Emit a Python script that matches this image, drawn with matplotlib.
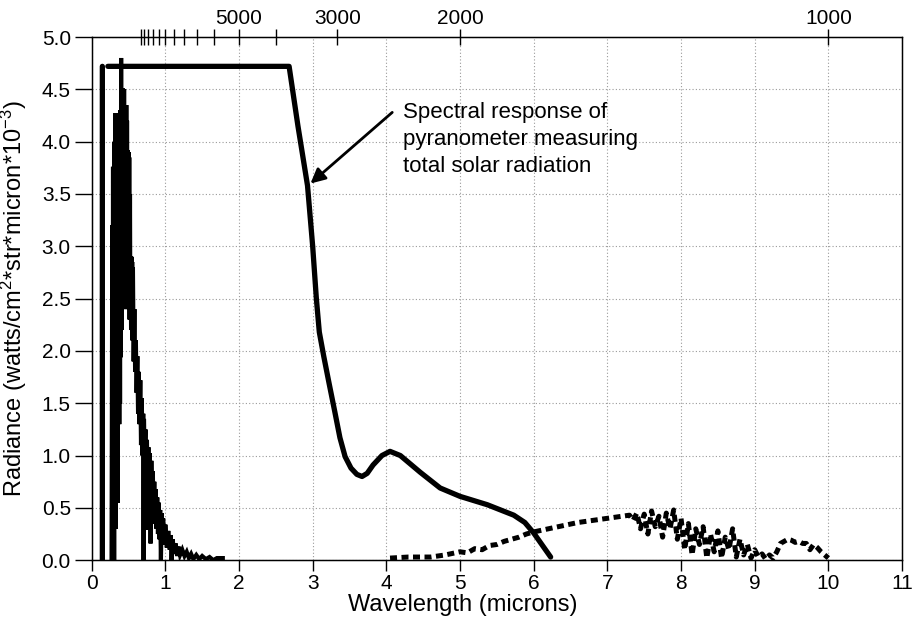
import numpy as np
import matplotlib
matplotlib.use("Agg")
import matplotlib.pyplot as plt

plt.rcParams['font.family'] = ['Liberation Sans', 'DejaVu Sans']
plt.rcParams['mathtext.fontset'] = 'custom'
plt.rcParams['mathtext.rm'] = 'Liberation Sans'
plt.rcParams['mathtext.it'] = 'Liberation Sans'

# pyranometer spectral response (nan = small gap at the top-left corner)
pyr_x = [0.145, 0.145, np.nan, 0.22, 1.0, 2.0, 2.68, 2.80, 2.93, 3.0, 3.05, 3.09,
         3.15, 3.22, 3.30, 3.37, 3.44, 3.52, 3.60, 3.67, 3.74, 3.82, 3.94, 4.05,
         4.19, 4.46, 4.73, 5.0, 5.37, 5.73, 5.88, 6.0, 6.23]
pyr_y = [0.0, 4.72, np.nan, 4.72, 4.72, 4.72, 4.72, 4.15, 3.58, 3.0, 2.50, 2.18,
         1.95, 1.70, 1.42, 1.17, 0.99, 0.88, 0.82, 0.80, 0.83, 0.91, 1.00, 1.04,
         1.00, 0.84, 0.69, 0.61, 0.53, 0.43, 0.36, 0.26, 0.03]

# solar radiation spectrum
sun_x = [0.270, 0.280, 0.285, 0.290, 0.295, 0.300, 0.305, 0.310, 0.315, 0.320,
         0.325, 0.330, 0.335, 0.340, 0.345, 0.350, 0.355, 0.360, 0.365, 0.370,
         0.375, 0.380, 0.385, 0.390, 0.395, 0.400, 0.405, 0.410, 0.415, 0.420,
         0.425, 0.430, 0.435, 0.440, 0.445, 0.450, 0.455, 0.460, 0.465, 0.470,
         0.475, 0.480, 0.485, 0.490, 0.495, 0.500, 0.505, 0.510, 0.515, 0.520,
         0.525, 0.530, 0.535, 0.540, 0.545, 0.550, 0.555, 0.560, 0.570, 0.580,
         0.590, 0.600, 0.610, 0.620, 0.630, 0.640, 0.650, 0.660, 0.670, 0.680,
         0.690, 0.700, 0.705, 0.710, 0.720, 0.730, 0.740, 0.750, 0.760, 0.770,
         0.780, 0.790, 0.800, 0.810, 0.820, 0.830, 0.840, 0.850, 0.860, 0.870,
         0.880, 0.890, 0.900, 0.910, 0.920, 0.930, 0.940, 0.950, 0.960, 0.970,
         0.990, 1.000, 1.020, 1.040, 1.060, 1.070, 1.085, 1.100, 1.120, 1.140,
         1.160, 1.180, 1.200, 1.230, 1.260, 1.290, 1.320, 1.350, 1.380, 1.420,
         1.460, 1.500, 1.550, 1.600, 1.650, 1.700, 1.780]
sun_y = [0.00, 3.20, 0.40, 3.76, 0.10, 3.60, 0.00, 4.00, 1.20, 4.27,
         0.30, 4.20, 1.50, 4.10, 1.40, 4.27, 0.55, 4.00, 1.40, 3.90,
         1.30, 4.10, 1.50, 4.30, 1.94, 4.80, 2.20, 4.50, 2.40, 4.51,
         2.50, 4.40, 2.40, 4.50, 2.60, 4.35, 2.50, 4.30, 2.60, 4.35,
         2.40, 4.20, 2.50, 3.92, 2.40, 3.90, 2.45, 3.85, 2.30, 3.50,
         2.35, 2.90, 2.20, 2.90, 2.20, 2.85, 2.10, 2.80, 1.90, 2.40,
         1.80, 2.10, 1.60, 1.95, 1.40, 1.80, 1.30, 1.72, 1.10, 1.55,
         1.00, 1.40, 0.00, 1.35, 0.90, 1.25, 0.29, 1.15, 0.70, 1.08,
         0.60, 1.02, 0.16, 0.95, 0.50, 0.85, 0.45, 0.75, 0.35, 0.68,
         0.30, 0.60, 0.25, 0.55, 0.20, 0.48, 0.00, 0.45, 0.18, 0.40,
         0.15, 0.34, 0.12, 0.28, 0.10, 0.24, 0.00, 0.20, 0.06, 0.16,
         0.04, 0.13, 0.05, 0.10, 0.04, 0.08, 0.02, 0.06, 0.01, 0.05,
         0.01, 0.04, 0.01, 0.03, 0.00, 0.02, 0.02]

# earth thermal emission
ir_x = [4.05, 4.3, 4.6, 4.8, 5.0, 5.1, 5.2, 5.3, 5.4, 5.5, 5.6, 5.7, 5.8, 5.9,
        6.0, 6.2, 6.4, 6.6, 6.8, 7.0, 7.2,
        7.30, 7.35, 7.40, 7.45, 7.50, 7.55, 7.60, 7.65, 7.70, 7.75, 7.80, 7.85,
        7.90, 7.95, 8.00, 8.05, 8.10, 8.15, 8.20, 8.25, 8.30, 8.35, 8.40, 8.45,
        8.50, 8.55, 8.60, 8.65, 8.70, 8.75, 8.80, 8.85, 8.90, 8.95, 9.00, 9.05,
        9.10, 9.15, 9.20, 9.25, 9.30, 9.35, 9.40, 9.45, 9.50, 9.55, 9.60, 9.65,
        9.70, 9.75, 9.80, 9.85, 9.90, 9.95, 10.0]
ir_y = [0.02, 0.03, 0.03, 0.05, 0.08, 0.07, 0.11, 0.10, 0.14, 0.15, 0.18, 0.20,
        0.22, 0.25, 0.27, 0.30, 0.33, 0.36, 0.38, 0.40, 0.42,
        0.43, 0.38, 0.45, 0.30, 0.44, 0.25, 0.47, 0.32, 0.42, 0.22, 0.45, 0.30,
        0.48, 0.20, 0.40, 0.10, 0.35, 0.05, 0.30, 0.15, 0.32, 0.02, 0.25, 0.08,
        0.28, 0.02, 0.22, 0.10, 0.30, 0.03, 0.20, 0.05, 0.15, 0.02, 0.10, 0.03,
        0.06, 0.01, 0.05, 0.02, 0.08, 0.16, 0.18, 0.20, 0.19, 0.17, 0.18, 0.16,
        0.16, 0.10, 0.15, 0.12, 0.08, 0.05, 0.02]

wavenumbers = [15000, 14000, 13000, 12000, 11000, 10000, 9000, 8000, 7000,
               6000, 5000, 4000, 3000, 2000, 1000]
labeled_wn = [5000, 3000, 2000, 1000]

fig = plt.figure(figsize=(9.13, 6.28), dpi=100)
ax = fig.add_axes([0.1004, 0.108, 0.8876, 0.833])

ax.plot(sun_x, sun_y, color='black', lw=3.0, solid_joinstyle='miter')
ax.plot(ir_x, ir_y, color='black', lw=3.6, linestyle=(0, (1.4, 0.9)))
ax.plot(pyr_x, pyr_y, color='black', lw=3.8, solid_capstyle='round',
        solid_joinstyle='round')

ax.set_xlim(0, 11)
ax.set_ylim(0, 5)
ax.set_xticks(range(0, 12))
ax.set_yticks(np.arange(0, 5.01, 0.5))
ax.set_yticklabels([f"{v:.1f}" for v in np.arange(0, 5.01, 0.5)])
ax.grid(True, color='#9a9a9a', linestyle=(0, (1, 2)), lw=0.8)
ax.tick_params(axis='both', labelsize=15, width=1, color='black')
ax.tick_params(axis='y', length=12, pad=3)
ax.tick_params(axis='x', length=8, pad=2)
for s in ax.spines.values():
    s.set_linewidth(1)

ax.set_xlabel("Wavelength (microns)", fontsize=17)
ax.xaxis.set_label_coords(0.458, -0.064)
ax.set_ylabel("Radiance (watts/cm$^2$*str*micron*10$^{-3}$)", fontsize=17)
ax.yaxis.set_label_coords(-0.0773, 0.5)

# top axis: wavenumber (cm-1)
top = ax.twiny()
top.set_xlim(0, 11)
top.set_xticks([10000 / w for w in wavenumbers])
top.set_xticklabels([str(w) if w in labeled_wn else "" for w in wavenumbers])
top.tick_params(axis='x', direction='inout', length=11, width=1, labelsize=15,
                pad=1)

ax.annotate("", xy=(2.97, 3.60), xytext=(4.08, 4.28),
            arrowprops=dict(arrowstyle='-|>', color='black', lw=2,
                            mutation_scale=22, shrinkA=0, shrinkB=0))
ax.text(4.23, 4.02, "Spectral response of\npyranometer measuring\ntotal solar radiation",
        fontsize=16, ha='left', va='center', linespacing=1.4)

fig.savefig("out.png", dpi=100)
